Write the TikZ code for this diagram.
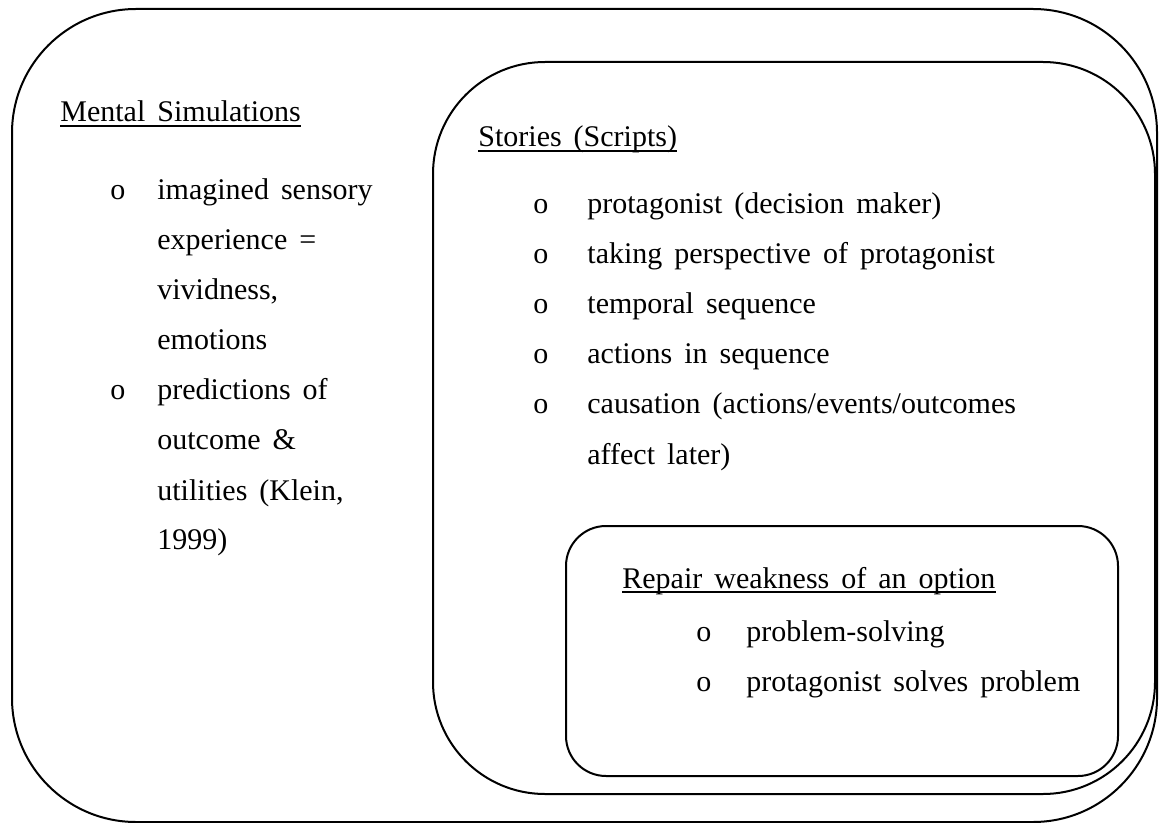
\documentclass[tikz,border=0pt]{standalone}
\usepackage{fontspec}
\setmainfont{Liberation Serif}[WordSpace=1.6]
\usepackage{array}

\begin{document}
\begin{tikzpicture}[
        x=0.5pt,
        y=-0.5pt,
        panel/.style={
            draw,
            line width=1pt,
            rounded corners=#1
        },
        heading/.style={
            anchor=base west,
            inner sep=0pt,
            font=\fontsize{15}{25}\selectfont
        },
        bulletlist/.style={
            anchor=base west,
            inner sep=0pt,
            align=left,
            font=\fontsize{15}{25}\selectfont
        },
        underline/.style={line width=1pt}
        ]

        \useasboundingbox (0,0) rectangle (1160,823);

        % Panels
        \draw[panel=62pt] (12,9) rectangle (1157,822);
        \draw[panel=56pt] (433,62) rectangle (1155,794);
        \draw[panel=20pt] (566,526) rectangle (1118,776);

        % Headings
        \node[heading] (simtitle) at (60,122) {Mental Simulations};
        \node[heading] (storytitle) at (478,147) {Stories (Scripts)};
        \node[heading] (repairtitle) at (622,588) {Repair weakness of an option};

        \draw[underline] ([yshift=-2pt]simtitle.base west) -- ([yshift=-2pt]simtitle.base east);
        \draw[underline] ([yshift=-2pt]storytitle.base west) -- ([yshift=-2pt]storytitle.base east);
        \draw[underline] ([yshift=-2pt]repairtitle.base west) -- ([yshift=-2pt]repairtitle.base east);

        % Mental simulations
        \node[bulletlist] (simlist) at (110,200) {%
            \begin{tabular}[t]{@{}p{23.5pt}@{}l@{}}
                o & imagined sensory\\
                  & experience =\\
                  & vividness,\\
                  & emotions\\
                o & predictions of\\
                  & outcome \&\\
                  & utilities (Klein,\\
                  & 1999)
            \end{tabular}};

        % Stories
        \node[bulletlist] (storylist) at (533,214) {%
            \begin{tabular}[t]{@{}p{27pt}@{}l@{}}
                o & protagonist (decision maker)\\
                o & taking perspective of protagonist\\
                o & temporal sequence\\
                o & actions in sequence\\
                o & causation (actions/events/outcomes\\
                  & affect later)
            \end{tabular}};

        % Repair weakness
        \node[bulletlist] (repairlist) at (696,641) {%
            \begin{tabular}[t]{@{}p{25pt}@{}l@{}}
                o & problem-solving\\
                o & protagonist solves problem
            \end{tabular}};

    \end{tikzpicture}
\end{document}
